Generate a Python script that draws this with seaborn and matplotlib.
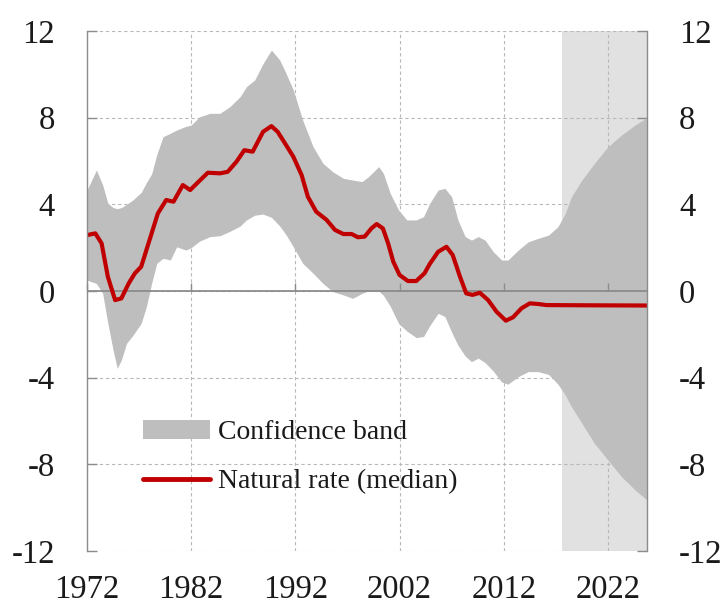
import numpy as np
import pandas as pd
import matplotlib
matplotlib.use("Agg")
import matplotlib.pyplot as plt
import seaborn as sns
from matplotlib.patches import Patch
from matplotlib.lines import Line2D

# Natural rate of interest (median estimate), in percent
median_years = [1972.0, 1972.8, 1973.4, 1974.0, 1974.7, 1975.3, 1976.0, 1976.6, 1977.2,
                1978.0, 1978.8, 1979.6, 1980.3, 1981.2, 1981.9, 1982.7, 1983.6, 1984.75,
                1985.5, 1986.35, 1987.1, 1987.9, 1988.9, 1989.7, 1990.3, 1991.1, 1991.8,
                1992.6, 1993.2, 1994.0, 1995.0, 1995.8, 1996.6, 1997.4, 1998.0, 1998.65,
                1999.3, 1999.8, 2000.4, 2000.9, 2001.4, 2002.0, 2002.8, 2003.6, 2004.4,
                2004.9, 2005.7, 2006.5, 2007.1, 2007.8, 2008.4, 2009.0, 2009.7, 2010.5,
                2011.3, 2012.2, 2012.9, 2013.7, 2014.5, 2015.3, 2016.1, 2020.0, 2025.75]
median_rate = [2.58, 2.66, 2.2, 0.66, -0.42, -0.34, 0.35, 0.82, 1.12,
               2.35, 3.58, 4.2, 4.12, 4.89, 4.66, 5.04, 5.46, 5.43,
               5.5, 5.97, 6.5, 6.43, 7.35, 7.61, 7.35, 6.74, 6.2,
               5.35, 4.35, 3.66, 3.28, 2.82, 2.63, 2.63, 2.48, 2.51,
               2.89, 3.09, 2.89, 2.2, 1.35, 0.74, 0.46, 0.46, 0.82,
               1.25, 1.81, 2.04, 1.66, 0.66, -0.11, -0.18, -0.08, -0.42,
               -0.95, -1.37, -1.21, -0.8, -0.57, -0.6, -0.65, -0.66, -0.67]

# Confidence band around the median
band_years = [1972.0, 1972.9, 1973.5, 1974.0, 1974.5, 1974.9, 1975.3, 1975.8, 1976.4,
              1977.2, 1977.7, 1978.2, 1978.7, 1979.3, 1980.0, 1980.6, 1981.5, 1982.0,
              1982.8, 1983.8, 1984.75, 1985.7, 1986.7, 1987.3, 1988.1, 1988.9, 1989.7,
              1990.5, 1991.1, 1991.8, 1992.7, 1993.7, 1994.65, 1995.6, 1996.6, 1997.5,
              1998.4, 1999.0, 2000.0, 2000.45, 2001.1, 2001.9, 2002.7, 2003.6, 2004.3,
              2004.9, 2005.7, 2006.35, 2007.0, 2007.6, 2008.3, 2008.9, 2009.55, 2010.2,
              2011.0, 2011.8, 2012.4, 2013.4, 2014.35, 2015.3, 2016.3, 2017.2, 2017.9,
              2018.5, 2019.5, 2020.7, 2022.0, 2023.3, 2024.6, 2025.75]
band_upper = [4.66, 5.58, 4.9, 4.05, 3.85, 3.8, 3.85, 4.0, 4.2,
              4.55, 5.0, 5.4, 6.3, 7.12, 7.28, 7.43, 7.6, 7.66,
              8.04, 8.2, 8.2, 8.5, 8.97, 9.43, 9.74, 10.5, 11.12,
              10.66, 10.05, 9.28, 7.89, 6.66, 5.89, 5.5, 5.2, 5.12,
              5.05, 5.27, 5.74, 5.43, 4.51, 3.74, 3.28, 3.28, 3.43,
              4.05, 4.66, 4.74, 4.35, 3.28, 2.51, 2.35, 2.51, 2.35,
              1.81, 1.43, 1.43, 1.89, 2.27, 2.43, 2.58, 2.97, 3.58,
              4.35, 5.12, 5.89, 6.66, 7.2, 7.66, 8.0]
band_lower = [0.5, 0.35, -0.1, -1.49, -2.72, -3.57, -3.18, -2.41, -2.05,
              -1.49, -0.72, 0.35, 1.28, 1.51, 1.43, 2.04, 1.89, 2.0,
              2.3, 2.51, 2.55, 2.75, 3.0, 3.28, 3.5, 3.55, 3.4,
              3.0, 2.6, 2.04, 1.28, 0.82, 0.35, -0.03, -0.18, -0.34,
              -0.11, 0.0, 0.0, -0.2, -0.7, -1.49, -1.85, -2.15, -2.1,
              -1.6, -1.03, -1.18, -1.9, -2.5, -3.0, -3.26, -3.1, -3.3,
              -3.7, -4.2, -4.3, -3.95, -3.72, -3.72, -3.85, -4.3, -4.8,
              -5.34, -6.11, -7.03, -7.8, -8.57, -9.18, -9.65]

# Projection period and axis settings
forecast_start = 2017.6
x_end = 2025.75
x_ticks = [1972, 1982, 1992, 2002, 2012, 2022]
y_ticks = [-12, -8, -4, 0, 4, 8, 12]

median_df = pd.DataFrame({"year": median_years, "rate": median_rate})

sns.set_theme(style="white")
plt.rcParams["font.family"] = ["Liberation Serif", "DejaVu Serif"]
plt.rcParams["axes.unicode_minus"] = False

fig = plt.figure(figsize=(7.24, 6.06), dpi=100)
ax = fig.add_axes([87 / 724, 1 - 551 / 606, 560 / 724, 520 / 606])

band_color = "#bebebe"
shade_color = "#e1e1e1"
red = "#c00000"
axis_gray = "#8c8c8c"
text_color = "#1a1a1a"

ax.axvspan(forecast_start, x_end, color=shade_color, lw=0, zorder=0.2)
ax.fill_between(band_years, band_lower, band_upper, color=band_color, lw=0, zorder=1)
ax.axhline(0, color=axis_gray, lw=1.3, zorder=2)
sns.lineplot(data=median_df, x="year", y="rate", ax=ax, color=red, lw=3.0,
             zorder=3, legend=False)

ax.set_xlim(1972, x_end)
ax.set_ylim(-12, 12)
ax.set_xticks(x_ticks)
ax.set_yticks(y_ticks)
ax.set_xlabel("")
ax.set_ylabel("")

ax.grid(True, which="major", color="#b8b8b8", lw=0.8, ls=(0, (3, 2.5)))
for line in ax.get_xgridlines() + ax.get_ygridlines():
    line.set_zorder(0.5)

for side in ["top", "bottom"]:
    ax.spines[side].set_visible(False)
for side in ["left", "right"]:
    ax.spines[side].set_visible(True)
    ax.spines[side].set_color(axis_gray)
    ax.spines[side].set_linewidth(1.0)
    ax.spines[side].set_zorder(4)

ax.tick_params(axis="y", which="major", direction="in", length=7, width=1.0,
               color=axis_gray, left=True, right=True, labelleft=True, labelright=True,
               labelsize=23.5, labelcolor=text_color, pad=23)
ax.tick_params(axis="x", bottom=False, length=0, labelsize=23.5,
               labelcolor=text_color, pad=17)

# Tick marks hanging below the zero line
zero_axis = ax.secondary_xaxis(0.5)
zero_axis.set_zorder(2.5)
zero_axis.set_xticks(x_ticks)
zero_axis.set_xticklabels([])
zero_axis.tick_params(axis="x", direction="out", length=6, width=1.0, color=axis_gray)
for spine in zero_axis.spines.values():
    spine.set_visible(False)

handles = [Patch(facecolor=band_color, edgecolor="none", label="Confidence band"),
           Line2D([], [], color=red, lw=3.5, label="Natural rate (median)")]
ax.legend(handles=handles, loc="upper left", bbox_to_anchor=(0.1, 0.252),
          frameon=False, fontsize=20, handlelength=2.4, handletextpad=0.3,
          labelspacing=0.85, borderaxespad=0, borderpad=0, labelcolor=text_color)

fig.savefig("out.png", dpi=100)
